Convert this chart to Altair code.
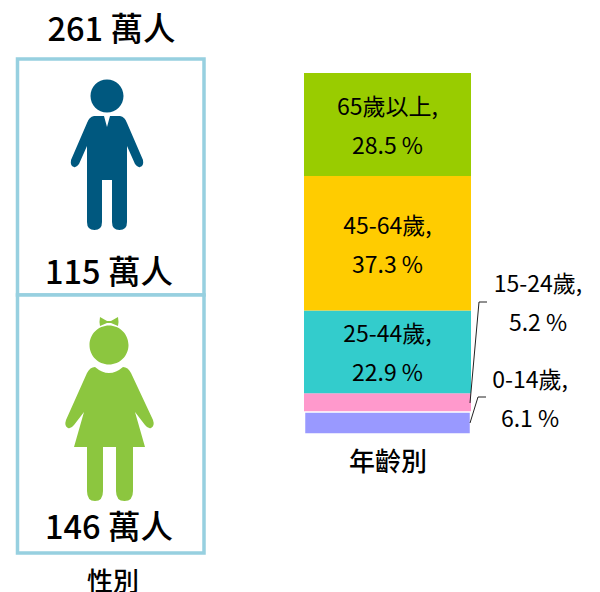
import altair as alt
import pandas as pd

age_groups = ["65歲以上", "45-64歲", "25-44歲", "15-24歲", "0-14歲"]
age_shares = [28.5, 37.3, 22.9, 5.2, 6.1]
age_colors = ["#99CC00", "#FFCC00", "#33CCCC", "#FF99CC", "#9999FF"]
total_people = 261
male_people = 115
female_people = 146
gender_title = "性別"
age_title = "年齡別"

FONT = "Noto Sans CJK TC"
OFF = 8  # page margin

def px(v):
    return alt.value(v - OFF)

MAN = ("M-16.5,-76A16.5,16.5 0 1 1 16.5,-76A16.5,16.5 0 1 1 -16.5,-76Z"
       "M-3,-56L0,-45L3,-56L13,-56Q18,-55 20,-49L36,-12Q37,-6 33,-5Q31,-4 28,-8L20,-26"
       "L20,50Q20,58 12.5,58Q5,58 5,50L5,8L-5,8L-5,50Q-5,58 -12.5,58Q-20,58 -20,50L-20,-26"
       "L-28,-8Q-31,-4 -33,-5Q-37,-6 -36,-12L-20,-49Q-18,-55 -13,-56Z")
WOMAN = ("M-19.5,-65A19.5,19.5 0 1 1 19.5,-65A19.5,19.5 0 1 1 -19.5,-65Z"
         "M-2,-89L-9,-93Q-10,-88 -9,-84L-2,-87L2,-87L9,-84Q10,-88 9,-93L2,-89Z"
         "M-14,-43Q-7,-37 0,-37Q7,-37 14,-43Q19,-43 22,-37L44,10Q46,16 42,18Q39,19 36,15L26,2"
         "L36,37L24,37L24,81Q24,91 15.5,91Q7,91 7,81L7,37L-6,37L-6,81Q-6,91 -14,91Q-22,91 -22,81L-22,37"
         "L-35,37L-25,2L-35,15Q-38,19 -41,18Q-45,16 -43,10L-22,-37Q-19,-43 -14,-43Z")

dummy = pd.DataFrame({"a": [0]})

# stacked age bar
df = pd.DataFrame({"age": age_groups, "share": age_shares, "color": age_colors})
df = df.iloc[::-1].reset_index(drop=True)
df["top"] = df["share"].cumsum()
df["bottom"] = df["top"] - df["share"]
df["mid"] = (df["top"] + df["bottom"]) / 2
df["label"] = df["age"] + ",\n" + df["share"].map(lambda v: f"{v} %")

yscale = alt.Scale(domain=[0, 100], range=[434 - OFF, 73 - OFF], nice=False, zero=False)

bars = alt.Chart(df).mark_rect().encode(
    x=px(304), x2=px(471),
    y=alt.Y("bottom:Q", scale=yscale, axis=None),
    y2="top:Q",
    fill=alt.Fill("color:N", scale=None),
)
small = alt.Chart(df[df["age"] == age_groups[-1]]).mark_rect(stroke="white", strokeWidth=1.5).encode(
    x=px(304.5), x2=px(470.5),
    y=alt.Y("bottom:Q", scale=yscale, axis=None),
    y2="top:Q",
    fill=alt.Fill("color:N", scale=None),
)
inner_labels = alt.Chart(df[df["age"].isin(age_groups[:3])]).mark_text(
    font=FONT, fontSize=23, lineHeight=39, lineBreak="\n", color="black",
    baseline="middle", align="center", dy=-16.5
).encode(
    x=px(387.5),
    y=alt.Y("mid:Q", scale=yscale, axis=None),
    text="label:N",
)
def outer(i, x, y):
    row = df[df["age"] == age_groups[i]]
    return alt.Chart(row).mark_text(
        font=FONT, fontSize=23, lineHeight=39, lineBreak="\n", color="black",
        baseline="middle", align="center", dy=-16.5
    ).encode(x=px(x), y=px(y), text="label:N")

def seg(x1, y1, x2, y2):
    return alt.Chart(dummy).mark_rule(color="#222222", strokeWidth=1).encode(
        x=px(x1), x2=px(x2), y=px(y1), y2=px(y2)
    )

def text(s, x, y, size, weight=500):
    return alt.Chart(pd.DataFrame({"t": [s]})).mark_text(
        font=FONT, fontSize=size, fontWeight=weight, color="black", baseline="middle", align="center", dy=3
    ).encode(x=px(x), y=px(y), text="t:N")

def frame(y1, y2):
    return alt.Chart(dummy).mark_rect(fill="white", stroke="#97D0E0", strokeWidth=3.5).encode(
        x=px(17.5), x2=px(204), y=px(y1), y2=px(y2)
    )

def icon(path, color, x, y):
    return alt.Chart(dummy).mark_point(
        shape=path, filled=True, fill=color, stroke=None, opacity=1, size=4
    ).encode(x=px(x), y=px(y))

chart = alt.layer(
    frame(59, 295), frame(295, 553),
    icon(MAN, "#00587F", 107, 172),
    icon(WOMAN, "#8CC63F", 109, 410),
    text(f"{total_people} 萬人", 111.5, 28, 32.5),
    text(f"{male_people} 萬人", 109, 271, 32.5),
    text(f"{female_people} 萬人", 109, 526, 32.5),
    text(gender_title, 113, 580, 26),
    bars, small, inner_labels,
    outer(3, 538, 301), outer(4, 530, 397.5),
    seg(487, 302, 479, 302), seg(479, 302, 470, 403),
    seg(486, 397, 478, 397), seg(478, 397, 470, 423),
    text(age_title, 388, 460, 26),
).properties(
    width=584, height=584,
    padding=0,
    autosize=alt.AutoSizeParams(type="none"),
    background="white",
).configure_view(stroke=None)

chart.save("out.html", embed_options={"renderer": "svg", "actions": False})
